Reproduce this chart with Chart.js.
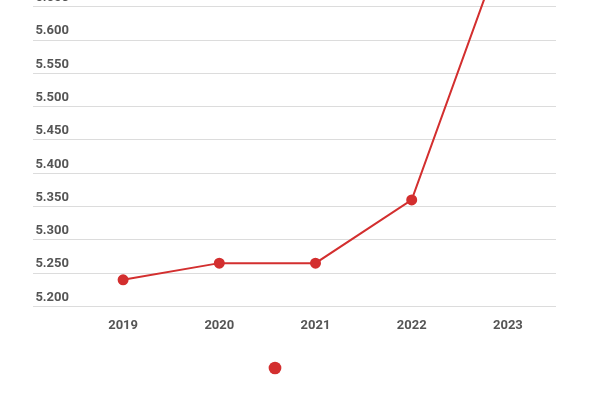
<!DOCTYPE html>
<html><head><meta charset="utf-8">
<script src="https://cdn.jsdelivr.net/npm/chart.js@4"></script>
<style>html,body{margin:0;padding:0;overflow:hidden;background:#fff;width:600px;height:400px}
#wrap{position:absolute;left:0;top:-100px;width:600px;height:500px}</style>
</head><body><div id="wrap"><canvas id="c" width="600" height="500"></canvas></div>
<script>
const categories = ["2019","2020","2021","2022","2023"];
const values = [5.24, 5.265, 5.265, 5.36, 5.76];
const seriesName = "";
const red = "#d32f2f";
new Chart(document.getElementById('c'), {
  type: 'line',
  data: { labels: categories, datasets: [{ label: seriesName, data: values, borderColor: red, backgroundColor: red,
    pointRadius: 4.5, pointHoverRadius: 5, borderWidth: 2, tension: 0, pointStyle: 'circle' }] },
  options: {
    responsive: false, animation: false,
    layout: { padding: { left: 0, right: 44, top: 7, bottom: 16 } },
    plugins: {
      legend: { position: 'bottom', labels: { usePointStyle: true, boxWidth: 9, boxHeight: 9, padding: 24,
        generateLabels: (ch) => [{ text: '', fillStyle: red, strokeStyle: red, pointStyle: 'circle', lineWidth: 0, datasetIndex: 0 }] } },
      tooltip: { enabled: false }
    },
    scales: {
      x: { offset: true, grid: { display: false }, border: { display: false },
        ticks: { color: '#555', font: { family: 'Roboto', weight: 'bold', size: 13 }, padding: 4 } },
      y: { min: 5.2, max: 5.8, border: { display: false },
        grid: { color: '#dcdcdc', tickLength: 42, drawTicks: true },
        afterFit: (s) => { s.width = 75; },
        ticks: { stepSize: 0.05, color: '#555', mirror: false, padding: -36, labelOffset: -9,
          font: { family: 'Roboto', weight: 'bold', size: 13 },
          callback: (v) => v.toFixed(3) } }
    }
  }
});
</script></body></html>
